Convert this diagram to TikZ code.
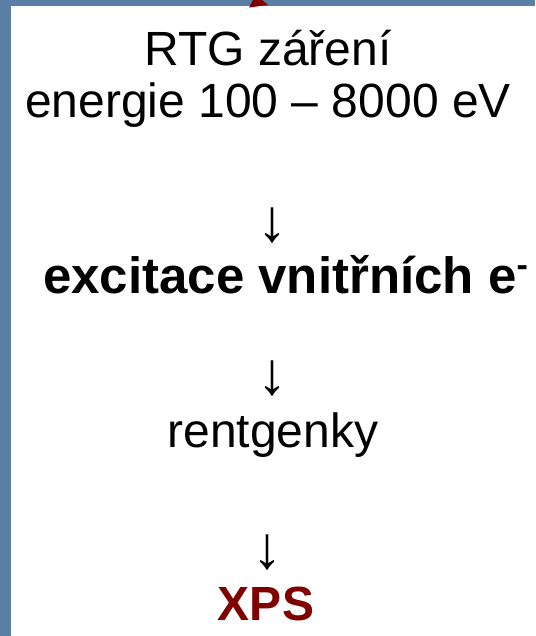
\documentclass[tikz,border=0pt]{standalone}
\usepackage{fontspec}
\setmainfont{Liberation Sans}
\definecolor{bgblue}{RGB}{90,126,166}
\definecolor{darkred}{RGB}{128,0,0}
\begin{document}
\begin{tikzpicture}[x=1pt,y=-1pt,
  txt/.style={anchor=base, inner sep=0pt, font=\fontsize{48}{56}\selectfont},
  btxt/.style={anchor=base, inner sep=0pt, font=\fontsize{48}{56}\selectfont\bfseries},
  arr/.style={anchor=base, inner sep=0pt, font=\fontsize{60}{66}\selectfont}]
\useasboundingbox (0,0) rectangle (535,636);
\fill[bgblue] (0,0) rectangle (535,636);
\fill[white] (11,6) rectangle (535,636);
\fill[darkred] (249,7.5) -- (253,0) -- (262,0) -- (268,5) -- cycle;
\node[txt] (l1) at (268,66) {RTG záření};
\node[txt] (l2) at (268,118) {energie 100 – 8000 eV};
\node[arr] (a1) at (272,241.5) {↓};
\node[btxt, anchor=base west, font=\fontsize{51}{58}\selectfont\bfseries] (l3) at (43,293) {excitace vnitřních e\raisebox{17pt}{\fontsize{34}{34}\selectfont -}};
\node[arr] (a2) at (272,394.5) {↓};
\node[txt] (l4) at (273,447) {rentgenky};
\node[arr] (a3) at (267,568.5) {↓};
\node[btxt, text=darkred] (l5) at (266,620) {XPS};
\end{tikzpicture}
\end{document}
